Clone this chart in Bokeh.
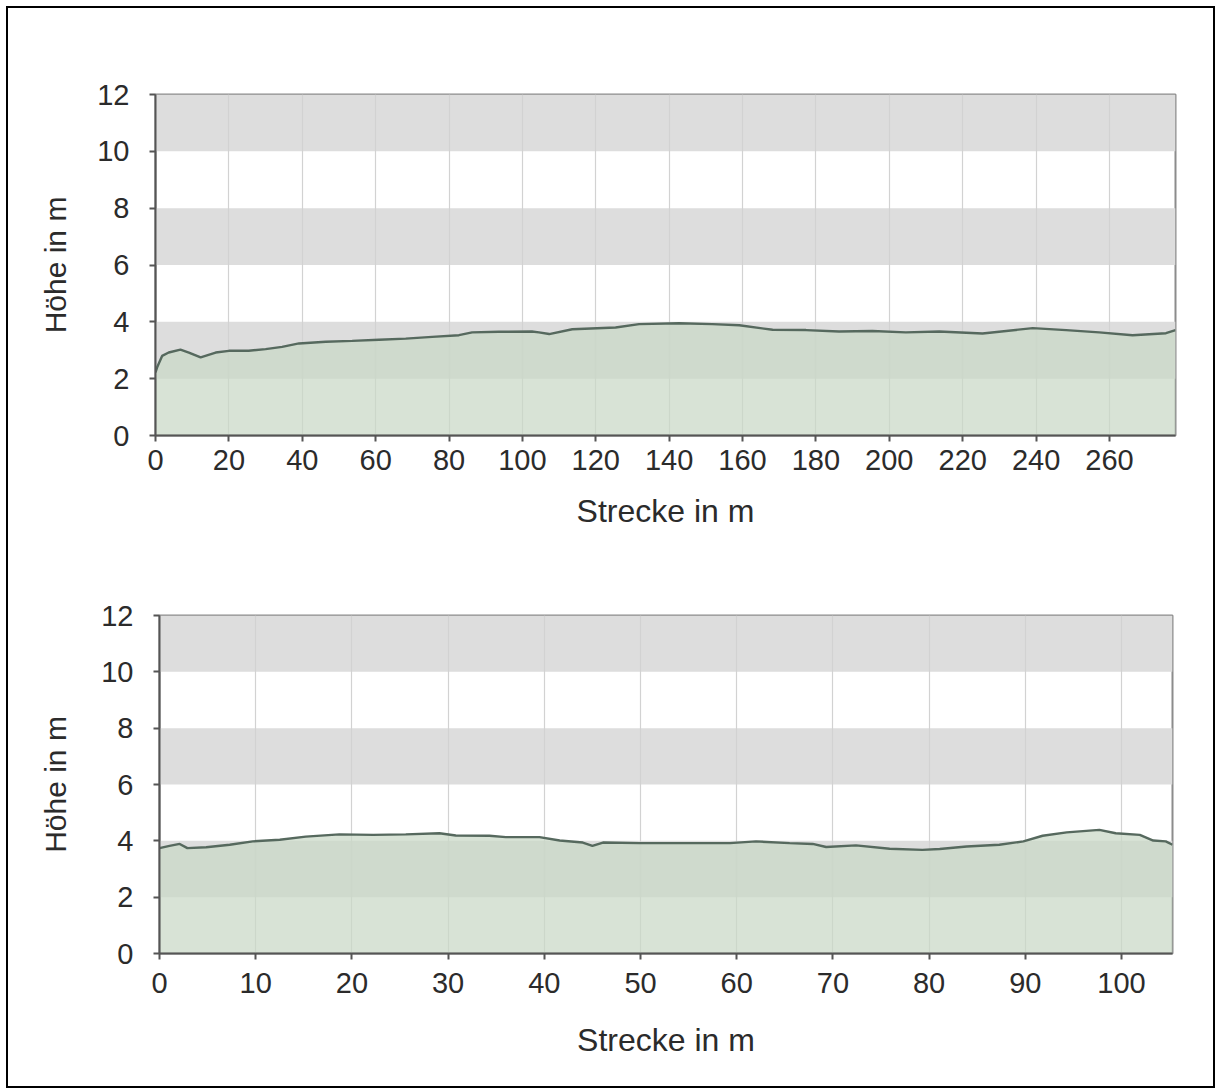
from bokeh.plotting import figure
from bokeh.models import Range1d, FixedTicker, BoxAnnotation
from bokeh.layouts import column
from bokeh.embed import file_html
from bokeh.resources import INLINE

# ---- data ----
strecke1 = [0, 0.45, 1.8, 3.6, 6.8, 9.1, 12.3, 16.4, 20, 25.4, 30, 34.5, 39.1, 46.4,
            53.6, 60.9, 68.2, 75.4, 82.7, 86.3, 93.6, 102.6, 104.5, 107.3, 113.6,
            125.4, 131.8, 142.7, 151.8, 159.1, 168.2, 177.3, 186.3, 195.4, 204.5,
            213.6, 225.4, 239.1, 248.2, 257.2, 266.3, 275.4, 278]
hoehe1 = [2.22, 2.4, 2.8, 2.92, 3.02, 2.92, 2.75, 2.92, 2.98, 2.98, 3.04, 3.12, 3.24, 3.30,
          3.33, 3.37, 3.41, 3.47, 3.53, 3.63, 3.65, 3.66, 3.63, 3.57, 3.74,
          3.80, 3.92, 3.95, 3.92, 3.88, 3.72, 3.71, 3.66, 3.68, 3.63,
          3.66, 3.59, 3.78, 3.71, 3.63, 3.53, 3.60, 3.71]

strecke2 = [0, 1.04, 2.1, 2.9, 4.85, 7.3, 9.7, 12.5, 15.2, 18.7, 22.2, 25.6, 29.1, 30.8,
            34.3, 36, 39.5, 41.6, 44, 45, 46.1, 49.9, 55.1, 59.3, 62, 65.5, 67.9, 69.3,
            72.4, 75.9, 79.3, 81.1, 83.9, 87.3, 89.8, 91.8, 94.3, 97.7, 99.4, 101.9,
            103.3, 104.6, 105.3]
hoehe2 = [3.74, 3.82, 3.89, 3.74, 3.77, 3.86, 3.98, 4.04, 4.15, 4.23, 4.21, 4.23, 4.27, 4.19,
          4.18, 4.13, 4.13, 4.01, 3.94, 3.82, 3.94, 3.92, 3.92, 3.92, 3.98, 3.92, 3.89, 3.78,
          3.84, 3.72, 3.68, 3.71, 3.80, 3.86, 3.98, 4.18, 4.30, 4.39, 4.27, 4.21,
          4.01, 3.98, 3.86]

x_ticks1 = list(range(0, 261, 20))
x_ticks2 = list(range(0, 101, 10))
y_ticks = [0, 2, 4, 6, 8, 10, 12]
grey_bands = [(2, 4), (6, 8), (10, 12)]
x_max1 = 278
x_max2 = 105.3

x_label = "Strecke in m"
y_label = "Höhe in m"

FONT = "Liberation Sans"
TXT = "#2b2b2b"


def make_chart(xs, ys, x_max, x_ticks, width, height, left, right, top, bottom,
               tick_standoff, xlab_standoff, ylab_standoff):
    p = figure(width=width, height=height,
               x_range=Range1d(0, x_max), y_range=Range1d(0, 12),
               output_backend="svg", toolbar_location=None,
               min_border_left=left, min_border_right=right,
               min_border_top=top, min_border_bottom=bottom)
    p.background_fill_color = "white"
    p.border_fill_color = "white"
    p.outline_line_color = "#8c8c8c"
    p.outline_line_width = 2

    for lo, hi in grey_bands:
        p.add_layout(BoxAnnotation(bottom=lo, top=hi, fill_color="#dddddd", fill_alpha=1.0,
                                   line_alpha=0, level="image"))

    p.xgrid.grid_line_color = "#d2d2d2"
    p.xgrid.grid_line_width = 1.2
    p.ygrid.grid_line_color = None

    p.varea(x=xs, y1=[0] * len(xs), y2=ys, fill_color="#c9d8c6", fill_alpha=0.72)
    p.line(xs, ys, line_color="#56695e", line_width=2.4)

    for ax, ticks in ((p.xaxis[0], x_ticks), (p.yaxis[0], y_ticks)):
        ax.ticker = FixedTicker(ticks=ticks)
        ax.minor_tick_line_color = None
        ax.major_tick_out = 6
        ax.major_tick_in = 0
        ax.major_tick_line_color = "#555555"
        ax.major_tick_line_width = 2
        ax.axis_line_color = "#555555"
        ax.axis_line_width = 2
        ax.major_label_text_font = FONT
        ax.major_label_text_font_size = "29px"
        ax.major_label_text_color = TXT
        ax.axis_label_text_font = FONT
        ax.axis_label_text_font_style = "normal"
        ax.axis_label_text_color = TXT

    p.xaxis.axis_label = x_label
    p.yaxis.axis_label = y_label
    p.xaxis.axis_label_text_font_size = "32px"
    p.yaxis.axis_label_text_font_size = "30px"
    p.xaxis.major_label_standoff = tick_standoff
    p.yaxis.major_label_standoff = 20
    p.xaxis.axis_label_standoff = xlab_standoff
    p.yaxis.axis_label_standoff = ylab_standoff
    return p


W = 1205
p1 = make_chart(strecke1, hoehe1, x_max1, x_ticks1, width=W, height=530,
                left=147, right=W - 147 - 1020, top=86, bottom=530 - 86 - 341,
                tick_standoff=8, xlab_standoff=20, ylab_standoff=22)
p2 = make_chart(strecke2, hoehe2, x_max2, x_ticks2, width=W, height=548,
                left=151, right=W - 151 - 1013, top=77, bottom=548 - 77 - 338,
                tick_standoff=13, xlab_standoff=26, ylab_standoff=26)

layout = column(column(p1), column(p2), spacing=0,
                styles={"border": "2px solid black", "background-color": "white",
                        "margin-left": "6px", "margin-top": "6px"})

open("out.html", "w").write(file_html(layout, INLINE))
